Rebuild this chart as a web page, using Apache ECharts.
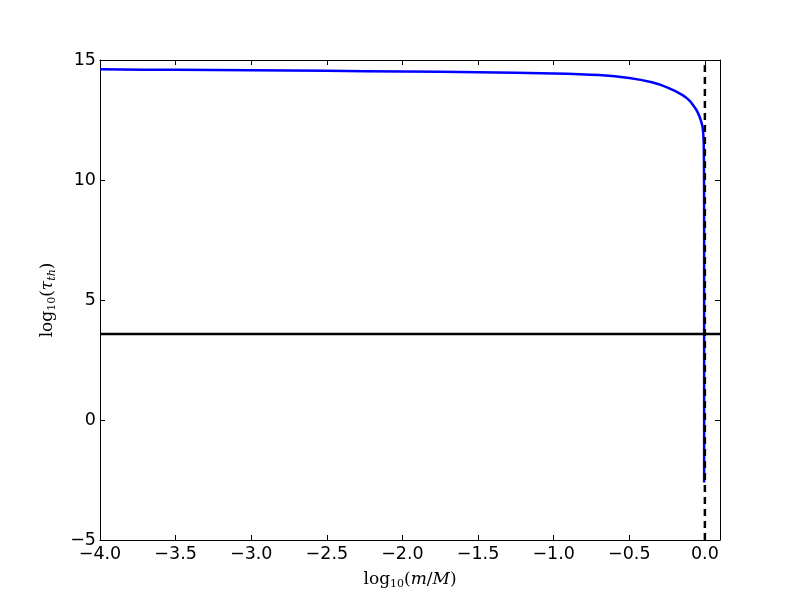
<!DOCTYPE html>
<html>
<head>
<meta charset="utf-8">
<script src="https://cdn.jsdelivr.net/npm/echarts@6/dist/echarts.min.js"></script>
<style>
  html, body { margin: 0; padding: 0; background: #fff; }
  #chart { width: 800px; height: 600px; }
</style>
</head>
<body>
<div id="chart"></div>
<script>
// log10(m/M) and log10(tau_th)
const massRatio = [-4.0, -3.5, -3.0, -2.5, -2.0, -1.5, -1.0, -0.7, -0.5, -0.35, -0.25, -0.15, -0.1, -0.07, -0.05, -0.03, -0.015, -0.008, -0.006, -0.005, -0.005]
const tauTh = [14.61, 14.59, 14.57, 14.55, 14.52, 14.49, 14.44, 14.37, 14.25, 14.07, 13.86, 13.55, 13.3, 13.05, 12.85, 12.55, 12.2, 11.6, 10.5, 8.0, -2.6]
// horizontal reference level and vertical dashed marker
const levelX = [-4.0, 0.1]
const levelY = [3.58, 3.58]
const markerX = [0.0, 0.0]
const markerY = [-5, 15]
const xTicks = [-4.0, -3.5, -3.0, -2.5, -2.0, -1.5, -1.0, -0.5, 0.0]

const zip = (a, b) => a.map((v, i) => [v, b[i]])
const minus = s => String(s).replace('-', '\u2212')

const chart = echarts.init(document.getElementById('chart'))

const mathRich = {
  n: { fontFamily: 'DejaVu Serif', fontSize: 17, color: '#000' },
  sub: { fontFamily: 'DejaVu Serif', fontSize: 11, color: '#000', padding: [9, 0, 0, 0] },
  it: { fontFamily: 'DejaVu Serif', fontStyle: 'italic', fontSize: 17, color: '#000' },
  itsub: { fontFamily: 'DejaVu Serif', fontStyle: 'italic', fontSize: 11, color: '#000', padding: [9, 0, 0, 0] },
}

const tickLabel = { fontFamily: 'DejaVu Sans', fontSize: 17.5, color: '#000' }
const frame = { show: true, onZero: false, lineStyle: { color: '#000', width: 1 } }
const ticks = { show: true, inside: true, length: 5, lineStyle: { color: '#000', width: 1 } }

const option = {
  animation: false,
  backgroundColor: '#fff',
  grid: { left: 100, right: 80, top: 60, bottom: 60 },
  xAxis: [
    {
      type: 'value',
      min: -4,
      max: 0.1,
      interval: 0.5,
      position: 'bottom',
      axisLine: frame,
      axisTick: ticks,
      splitLine: { show: false },
      axisLabel: {
        ...tickLabel,
        margin: 5,
        showMaxLabel: false,
        formatter: v => xTicks.some(t => Math.abs(t - v) < 1e-9) ? minus(v.toFixed(1)) : '',
      },
      name: '{n|log}{sub|10}{n|(}{it|m}{n|/}{it|M}{n|)}',
      nameLocation: 'middle',
      nameGap: 30,
      nameTextStyle: { rich: mathRich },
    },
    {
      type: 'value',
      min: -4,
      max: 0.1,
      interval: 0.5,
      position: 'top',
      axisLine: frame,
      axisTick: ticks,
      axisLabel: { show: false },
      splitLine: { show: false },
    },
  ],
  yAxis: [
    {
      type: 'value',
      min: -5,
      max: 15,
      interval: 5,
      position: 'left',
      axisLine: frame,
      axisTick: ticks,
      splitLine: { show: false },
      axisLabel: { ...tickLabel, margin: 4, formatter: v => minus(v) },
      name: '{n|log}{sub|10}{n|(}{it|τ}{itsub|th}{n|)}',
      nameLocation: 'middle',
      nameRotate: 90,
      nameGap: 42,
      nameTextStyle: { rich: mathRich },
    },
    {
      type: 'value',
      min: -5,
      max: 15,
      interval: 5,
      position: 'right',
      axisLine: frame,
      axisTick: ticks,
      axisLabel: { show: false },
      splitLine: { show: false },
    },
  ],
  series: [
    {
      type: 'line',
      data: zip(massRatio, tauTh),
      showSymbol: false,
      smooth: 0.3,
      lineStyle: { color: '#0000ff', width: 2.5 },
      z: 2,
    },
    {
      type: 'line',
      data: zip(levelX, levelY),
      showSymbol: false,
      lineStyle: { color: '#000', width: 2.5 },
      z: 3,
    },
    {
      type: 'line',
      data: zip(markerX, markerY),
      showSymbol: false,
      lineStyle: { color: '#000', width: 2.5, type: [7, 5] },
      z: 4,
    },
  ],
}

chart.setOption(option)
</script>
</body>
</html>
